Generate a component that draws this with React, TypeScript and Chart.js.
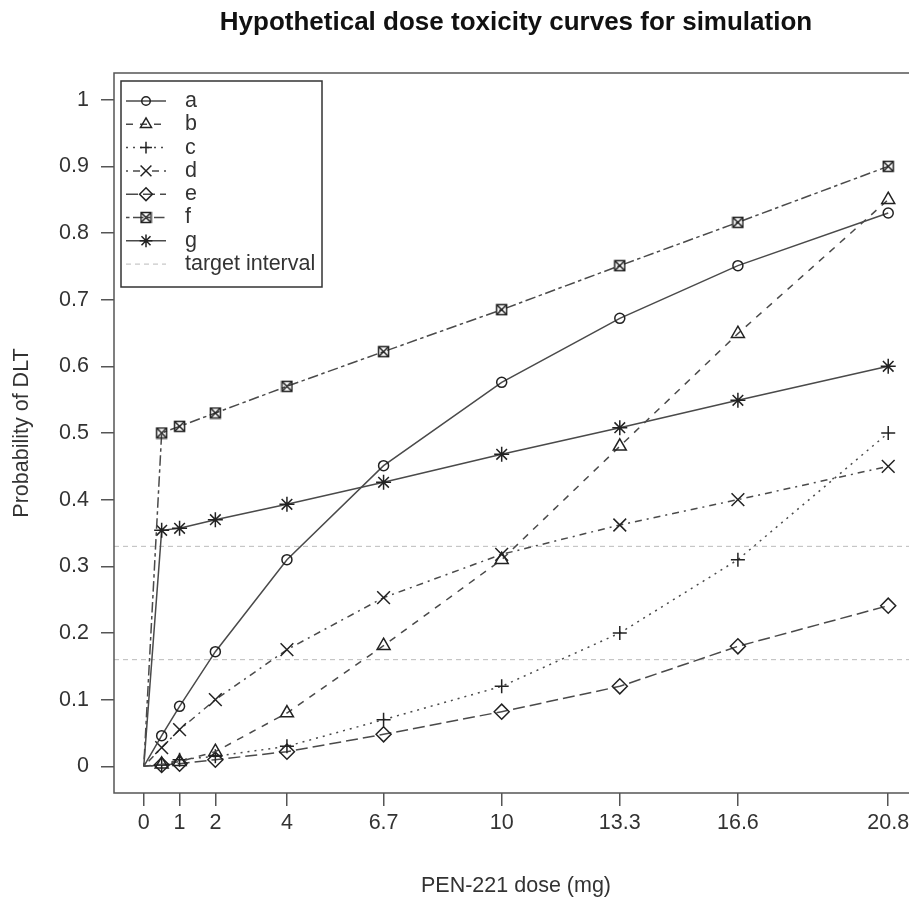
import React, { useEffect, useRef } from 'react';
import { Chart, registerables } from 'chart.js';

Chart.register(...registerables);

const doses = [0, 0.5, 1, 2, 4, 6.7, 10, 13.3, 16.6, 20.8];
const xTickValues = [0, 1, 2, 4, 6.7, 10, 13.3, 16.6, 20.8];
const xTickLabels = ['0', '1', '2', '4', '6.7', '10', '13.3', '16.6', '20.8'];
const yTickValues = [0, 0.1, 0.2, 0.3, 0.4, 0.5, 0.6, 0.7, 0.8, 0.9, 1];
const yTickLabels = ['0', '0.1', '0.2', '0.3', '0.4', '0.5', '0.6', '0.7', '0.8', '0.9', '1'];

const seriesNames = ['a', 'b', 'c', 'd', 'e', 'f', 'g'];
const seriesA = [0, 0.046, 0.09, 0.172, 0.31, 0.451, 0.576, 0.672, 0.751, 0.83];
const seriesB = [0, 0.003, 0.007, 0.022, 0.08, 0.181, 0.31, 0.48, 0.649, 0.85];
const seriesC = [0, 0.002, 0.01, 0.015, 0.03, 0.07, 0.12, 0.2, 0.31, 0.5];
const seriesD = [0, 0.028, 0.055, 0.1, 0.175, 0.253, 0.318, 0.362, 0.4, 0.45];
const seriesE = [0, 0.002, 0.004, 0.01, 0.022, 0.048, 0.082, 0.12, 0.18, 0.241];
const seriesF = [0, 0.5, 0.51, 0.53, 0.57, 0.622, 0.685, 0.751, 0.816, 0.9];
const seriesG = [0, 0.354, 0.357, 0.37, 0.393, 0.426, 0.468, 0.508, 0.549, 0.6];
const targetInterval = [0.16, 0.33];

const titleText = 'Hypothetical dose toxicity curves for simulation';
const xTitle = 'PEN-221 dose (mg)';
const yTitle = 'Probability of DLT';
const targetLabel = 'target interval';

const FONT = '"Liberation Sans", Arial, sans-serif';
const LINE_COLOR = '#4a4a4a';
const MARK_COLOR = '#222';

function makeSquareX(): HTMLCanvasElement {
  const c = document.createElement('canvas');
  c.width = 13;
  c.height = 13;
  const g = c.getContext('2d')!;
  g.strokeStyle = MARK_COLOR;
  g.lineWidth = 1.5;
  g.strokeRect(1.5, 1.5, 10, 10);
  g.beginPath();
  g.moveTo(1.5, 1.5);
  g.lineTo(11.5, 11.5);
  g.moveTo(11.5, 1.5);
  g.lineTo(1.5, 11.5);
  g.stroke();
  return c;
}

type Style = { dash: number[]; point: any; radius: number };

function drawMarker(ctx: CanvasRenderingContext2D, style: any, x: number, y: number, r: number) {
  ctx.save();
  ctx.strokeStyle = MARK_COLOR;
  ctx.lineWidth = 1.5;
  ctx.setLineDash([]);
  ctx.beginPath();
  if (typeof style !== 'string') {
    ctx.drawImage(style, x - style.width / 2, y - style.height / 2);
    ctx.restore();
    return;
  }
  if (style === 'circle') {
    ctx.arc(x, y, r, 0, Math.PI * 2);
  } else if (style === 'triangle') {
    for (let i = 0; i < 3; i++) {
      const a = (i * 2 * Math.PI) / 3;
      const px = x + Math.sin(a) * r;
      const py = y - Math.cos(a) * r;
      if (i === 0) ctx.moveTo(px, py);
      else ctx.lineTo(px, py);
    }
    ctx.closePath();
  } else if (style === 'cross') {
    ctx.moveTo(x - r, y);
    ctx.lineTo(x + r, y);
    ctx.moveTo(x, y - r);
    ctx.lineTo(x, y + r);
  } else if (style === 'crossRot') {
    const o = r * Math.SQRT1_2;
    ctx.moveTo(x - o, y - o);
    ctx.lineTo(x + o, y + o);
    ctx.moveTo(x + o, y - o);
    ctx.lineTo(x - o, y + o);
  } else if (style === 'rectRot') {
    ctx.moveTo(x, y - r);
    ctx.lineTo(x + r, y);
    ctx.lineTo(x, y + r);
    ctx.lineTo(x - r, y);
    ctx.closePath();
  } else if (style === 'star') {
    const o = r * Math.SQRT1_2;
    ctx.moveTo(x - r, y);
    ctx.lineTo(x + r, y);
    ctx.moveTo(x, y - r);
    ctx.lineTo(x, y + r);
    ctx.moveTo(x - o, y - o);
    ctx.lineTo(x + o, y + o);
    ctx.moveTo(x + o, y - o);
    ctx.lineTo(x - o, y + o);
  }
  ctx.stroke();
  ctx.restore();
}

export default function App() {
  const ref = useRef<HTMLCanvasElement | null>(null);

  useEffect(() => {
    if (!ref.current) return;
    const squareX = makeSquareX();
    const styles: Style[] = [
      { dash: [], point: 'circle', radius: 5 },
      { dash: [7, 7], point: 'triangle', radius: 7.5 },
      { dash: [2, 5], point: 'cross', radius: 7 },
      { dash: [2, 5, 7, 5], point: 'crossRot', radius: 9 },
      { dash: [12, 5], point: 'rectRot', radius: 7.5 },
      { dash: [3.5, 3.5, 10.5, 3.5], point: squareX, radius: 6 },
      { dash: [], point: 'star', radius: 7.5 },
    ];
    const allSeries = [seriesA, seriesB, seriesC, seriesD, seriesE, seriesF, seriesG];

    const datasets = allSeries.map((vals, i) => ({
      label: seriesNames[i],
      data: doses.map((d, j) => ({ x: d, y: vals[j] })),
      borderColor: LINE_COLOR,
      borderWidth: 1.5,
      borderDash: styles[i].dash,
      pointStyle: styles[i].point,
      pointRadius: doses.map((_, j) => (j === 0 ? 0 : styles[i].radius)),
      pointBorderColor: MARK_COLOR,
      pointBackgroundColor: 'rgba(0,0,0,0)',
      pointBorderWidth: 1.5,
      fill: false,
      tension: 0,
    }));

    const decor = {
      id: 'decor',
      beforeDatasetsDraw(chart: any) {
        const { ctx, chartArea } = chart;
        const ys = chart.scales.y;
        ctx.save();
        ctx.strokeStyle = '#bbbbbb';
        ctx.lineWidth = 1;
        ctx.setLineDash([5, 4]);
        targetInterval.forEach((v) => {
          const py = ys.getPixelForValue(v);
          ctx.beginPath();
          ctx.moveTo(chartArea.left, py);
          ctx.lineTo(chartArea.right, py);
          ctx.stroke();
        });
        ctx.restore();
      },
      afterDraw(chart: any) {
        const { ctx, chartArea } = chart;
        ctx.save();
        ctx.strokeStyle = '#555';
        ctx.lineWidth = 1.5;
        ctx.strokeRect(chartArea.left, chartArea.top, chartArea.right - chartArea.left, chartArea.bottom - chartArea.top);
        const cx = (chartArea.left + chartArea.right) / 2;
        const cy = (chartArea.top + chartArea.bottom) / 2;
        ctx.fillStyle = '#111';
        ctx.font = 'bold 26px ' + FONT;
        ctx.textAlign = 'center';
        ctx.textBaseline = 'alphabetic';
        ctx.fillText(titleText, cx, 30);
        ctx.fillStyle = '#333';
        ctx.font = '21.5px ' + FONT;
        ctx.fillText(xTitle, cx, 892);
        ctx.save();
        ctx.translate(28, cy);
        ctx.rotate(-Math.PI / 2);
        ctx.fillText(yTitle, 0, 0);
        ctx.restore();
        const lx = 121, ly = 81, lw = 201, lh = 206;
        ctx.fillStyle = '#fff';
        ctx.fillRect(lx, ly, lw, lh);
        ctx.strokeStyle = '#333';
        ctx.lineWidth = 1.5;
        ctx.strokeRect(lx, ly, lw, lh);
        const step = 23.3;
        const y0 = 101;
        ctx.font = '21.5px ' + FONT;
        ctx.textAlign = 'left';
        ctx.textBaseline = 'middle';
        for (let i = 0; i < seriesNames.length; i++) {
          const yy = y0 + i * step;
          ctx.save();
          ctx.strokeStyle = LINE_COLOR;
          ctx.lineWidth = 1.5;
          ctx.setLineDash(styles[i].dash);
          ctx.beginPath();
          ctx.moveTo(126, yy);
          ctx.lineTo(166, yy);
          ctx.stroke();
          ctx.restore();
          drawMarker(ctx, styles[i].point, 146, yy, styles[i].radius * 0.85);
          ctx.fillStyle = '#333';
          ctx.fillText(seriesNames[i], 185, yy);
        }
        const yt = y0 + 7 * step;
        ctx.save();
        ctx.strokeStyle = '#bbbbbb';
        ctx.lineWidth = 1;
        ctx.setLineDash([5, 4]);
        ctx.beginPath();
        ctx.moveTo(126, yt);
        ctx.lineTo(166, yt);
        ctx.stroke();
        ctx.restore();
        ctx.fillStyle = '#333';
        ctx.fillText(targetLabel, 185, yt);
        ctx.restore();
      },
    };

    const chart = new Chart(ref.current, {
      type: 'line',
      data: { datasets: datasets as any },
      options: {
        animation: false,
        responsive: false,
        events: [],
        layout: { autoPadding: false, padding: { top: 73, right: 22, left: 0, bottom: 0 } } as any,
        plugins: { legend: { display: false }, tooltip: { enabled: false }, title: { display: false } },
        scales: {
          x: {
            type: 'linear',
            min: -0.832,
            max: 21.632,
            afterBuildTicks: (axis: any) => {
              axis.ticks = xTickValues.map((v) => ({ value: v }));
            },
            afterFit: (scale: any) => {
              scale.height = 106;
            },
            ticks: {
              autoSkip: false,
              maxRotation: 0,
              padding: 4,
              color: '#333',
              font: { family: FONT, size: 21.5 },
              callback: (v: any) => {
                const idx = xTickValues.indexOf(Number(v));
                return idx >= 0 ? xTickLabels[idx] : '';
              },
            },
            grid: { display: true, drawOnChartArea: false, drawTicks: true, tickLength: 13, color: '#555', lineWidth: 1.5 },
            border: { display: false },
          },
          y: {
            type: 'linear',
            min: -0.04,
            max: 1.04,
            afterBuildTicks: (axis: any) => {
              axis.ticks = yTickValues.map((v) => ({ value: v }));
            },
            afterFit: (scale: any) => {
              scale.width = 114;
            },
            ticks: {
              autoSkip: false,
              padding: 12,
              color: '#333',
              font: { family: FONT, size: 21.5 },
              callback: (v: any) => {
                const idx = yTickValues.findIndex((t) => Math.abs(t - Number(v)) < 1e-9);
                return idx >= 0 ? yTickLabels[idx] : '';
              },
            },
            grid: { display: true, drawOnChartArea: false, drawTicks: true, tickLength: 13, color: '#555', lineWidth: 1.5 },
            border: { display: false },
          },
        },
      },
      plugins: [decor],
    });
    return () => chart.destroy();
  }, []);

  return (
    <div style={{ position: 'fixed', left: 0, top: 0, width: 909, height: 899, overflow: 'hidden', background: '#fff' }}>
      <canvas ref={ref} width={940} height={899} style={{ display: 'block', width: 940, height: 899 }} />
    </div>
  );
}
